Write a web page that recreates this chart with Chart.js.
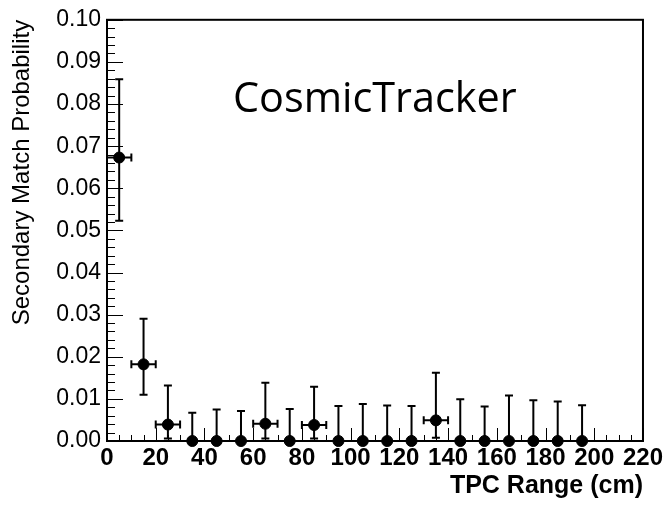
<!DOCTYPE html>
<html><head><meta charset="utf-8">
<script src="https://cdn.jsdelivr.net/npm/chart.js@4/dist/chart.umd.min.js"></script>
<style>html,body{margin:0;padding:0;background:#fff}</style>
</head><body>
<canvas id="c" width="666" height="506"></canvas>
<script>
// bin centres (cm) and measured probability with asymmetric errors
const binCenters=[5,15,25,35,45,55,65,75,85,95,105,115,125,135,145,155,165,175,185,195];
const matchProb=[0.0673,0.0182,0.0039,0,0,0,0.0041,0,0.0038,0,0,0,0,0.0049,0,0,0,0,0,0];
const errHigh=[0.0859,0.0290,0.0132,0.0067,0.0075,0.0071,0.0138,0.0076,0.0129,0.0083,0.0088,0.0084,0.0083,0.0162,0.0099,0.0082,0.0108,0.0097,0.0094,0.0085];
const errLow=[0.0523,0.0110,0.0006,0,0,0,0.0006,0,0.0006,0,0,0,0,0.0008,0,0,0,0,0,0];
const binHalf=5;
const xRange=[0,220], yRange=[0,0.10];
const label='CosmicTracker';

const FONT='"Liberation Sans", Arial, Helvetica, sans-serif';

const rootStyle={id:'rootStyle',
  beforeDatasetsDraw(chart){
    const {ctx,chartArea:a,scales:{x,y}}=chart;
    ctx.save();
    ctx.strokeStyle='#000';ctx.lineWidth=1;
    // ticks inside the frame
    for(let v=xRange[0];v<=xRange[1];v+=5){
      const px=Math.round(x.getPixelForValue(v))+0.5;
      const len=v%20===0?13:6;
      ctx.beginPath();ctx.moveTo(px,a.bottom);ctx.lineTo(px,a.bottom-len);ctx.stroke();
    }
    for(let i=0;i<=50;i++){
      const v=i*0.002;
      const py=Math.round(y.getPixelForValue(v))+0.5;
      const len=i%5===0?16:8;
      ctx.beginPath();ctx.moveTo(a.left,py);ctx.lineTo(a.left+len,py);ctx.stroke();
    }
    ctx.lineWidth=2;
    ctx.strokeRect(a.left,a.top,a.right-a.left,a.bottom-a.top);
    // error bars
    ctx.lineWidth=2;
    binCenters.forEach((c,i)=>{
      const px=x.getPixelForValue(c),py=y.getPixelForValue(matchProb[i]);
      const yt=y.getPixelForValue(errHigh[i]),yb=y.getPixelForValue(errLow[i]);
      const xl=x.getPixelForValue(c-binHalf),xr=x.getPixelForValue(c+binHalf);
      ctx.beginPath();
      ctx.moveTo(px,yb);ctx.lineTo(px,yt);
      ctx.moveTo(px-4,yt);ctx.lineTo(px+4,yt);
      if(errLow[i]>0){ctx.moveTo(px-4,yb);ctx.lineTo(px+4,yb);}
      ctx.moveTo(xl,py);ctx.lineTo(xr,py);
      if(matchProb[i]>0){
        ctx.moveTo(xl,py-4);ctx.lineTo(xl,py+4);
        ctx.moveTo(xr,py-4);ctx.lineTo(xr,py+4);
      }
      ctx.stroke();
    });
    ctx.restore();
  },
  afterDraw(chart){
    const ctx=chart.ctx;
    ctx.save();
    ctx.font='40px "Open Sans", sans-serif';
    const w=ctx.measureText(label).width;
    const size=40*284/w;
    ctx.font=size.toFixed(1)+'px "Open Sans", sans-serif';
    ctx.fillStyle='#000';ctx.textBaseline='alphabetic';ctx.textAlign='left';
    ctx.fillText(label,233,112);
    ctx.restore();
  }
};

new Chart(document.getElementById('c'),{
  type:'scatter',
  data:{datasets:[{
    data:binCenters.map((c,i)=>({x:c,y:matchProb[i]})),
    backgroundColor:'#000',borderColor:'#000',
    pointRadius:5.5,pointHoverRadius:5.5,showLine:false,clip:false
  }]},
  options:{
    responsive:false,animation:false,devicePixelRatio:1,
    layout:{padding:{top:16,right:22,left:0,bottom:0}},
    plugins:{legend:{display:false},tooltip:{enabled:false}},
    scales:{
      x:{type:'linear',min:xRange[0],max:xRange[1],
        grid:{display:false,drawTicks:false},border:{display:false},
        ticks:{stepSize:20,padding:3,color:'#000',font:{family:FONT,size:24,weight:'bold'},maxRotation:0,autoSkip:false},
        title:{display:true,text:'TPC Range (cm)',align:'end',color:'#000',font:{family:FONT,size:25,weight:'bold'},padding:{top:0,bottom:5}},
        afterFit(s){s.height=65;}
      },
      y:{type:'linear',min:yRange[0],max:yRange[1],
        grid:{display:false,drawTicks:false},border:{display:false},
        ticks:{stepSize:0.01,padding:6,color:'#000',font:{family:FONT,size:23},callback:v=>v.toFixed(2)},
        title:{display:true,text:'Secondary Match Probability',align:'end',color:'#000',font:{family:FONT,size:24},padding:{top:8,bottom:0}},
        afterFit(s){s.width=107;}
      }
    }
  },
  plugins:[rootStyle]
});
</script>
</body></html>
